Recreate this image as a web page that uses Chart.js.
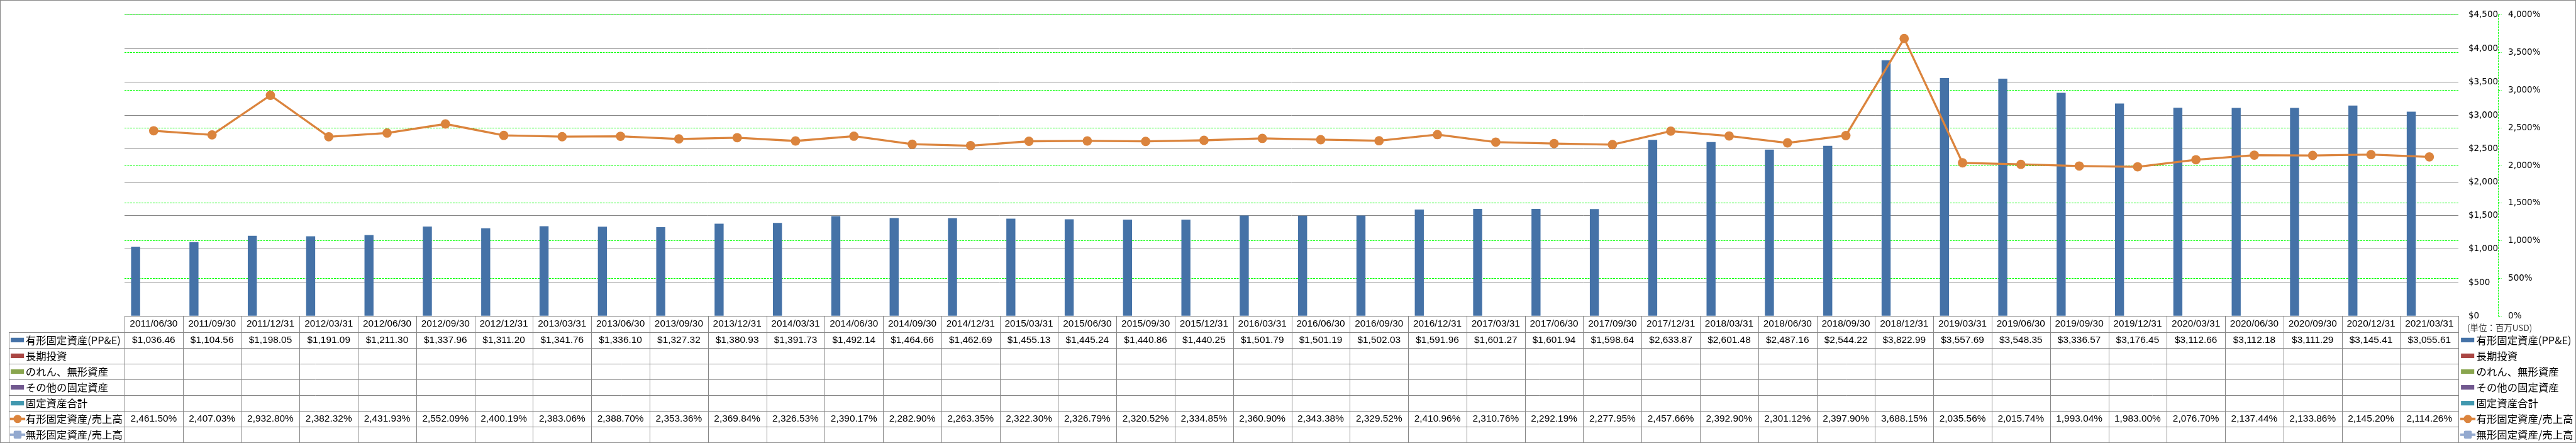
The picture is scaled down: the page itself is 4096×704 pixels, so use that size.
<!DOCTYPE html>
<html lang="ja">
<head>
<meta charset="utf-8">
<title>有形固定資産 推移</title>
<script src="https://cdn.jsdelivr.net/npm/chart.js@4.4.1/dist/chart.umd.min.js"></script>
<style>
  html,body{margin:0;padding:0;background:#fff}
  canvas{display:block}
</style>
</head>
<body>
<canvas id="chart" width="4096" height="704"></canvas>
<script>
// 期末日
const dates = ["2011/06/30","2011/09/30","2011/12/31","2012/03/31","2012/06/30","2012/09/30","2012/12/31",
  "2013/03/31","2013/06/30","2013/09/30","2013/12/31","2014/03/31","2014/06/30","2014/09/30","2014/12/31",
  "2015/03/31","2015/06/30","2015/09/30","2015/12/31","2016/03/31","2016/06/30","2016/09/30","2016/12/31",
  "2017/03/31","2017/06/30","2017/09/30","2017/12/31","2018/03/31","2018/06/30","2018/09/30","2018/12/31",
  "2019/03/31","2019/06/30","2019/09/30","2019/12/31","2020/03/31","2020/06/30","2020/09/30","2020/12/31",
  "2021/03/31"];

// 有形固定資産(PP&E)  百万USD
const ppe = [1036.46,1104.56,1198.05,1191.09,1211.30,1337.96,1311.20,1341.76,1336.10,1327.32,
  1380.93,1391.73,1492.14,1464.66,1462.69,1455.13,1445.24,1440.86,1440.25,1501.79,
  1501.19,1502.03,1591.96,1601.27,1601.94,1598.64,2633.87,2601.48,2487.16,2544.22,
  3822.99,3557.69,3548.35,3336.57,3176.45,3112.66,3112.18,3111.29,3145.41,3055.61];
// データなしの系列
const longInvest = [], goodwill = [], otherFixed = [], totalFixed = [];
// 有形固定資産/売上高  %
const ppeRatio = [2461.50,2407.03,2932.80,2382.32,2431.93,2552.09,2400.19,2383.06,2388.70,2353.36,
  2369.84,2326.53,2390.17,2282.90,2263.35,2322.30,2326.79,2320.52,2334.85,2360.90,
  2343.38,2329.52,2410.96,2310.76,2292.19,2277.95,2457.66,2392.90,2301.12,2397.90,
  3688.15,2035.56,2015.74,1993.04,1983.00,2076.70,2137.44,2133.86,2145.20,2114.26];
const intangibleRatio = [];

// 軸の範囲 [min, max, step]
const usdAxis = [0, 4500, 500];
const pctAxis = [0, 4000, 500];

const seriesNames = ["有形固定資産(PP&E)","長期投資","のれん、無形資産","その他の固定資産","固定資産合計","有形固定資産/売上高","無形固定資産/売上高"];
const seriesColors = ["#4572A7","#AA4643","#89A54E","#71588F","#4198AF","#DB843D","#93A9CF"];

// 参照画像 6227x1071 -> 4096x704
const SX = 4096/6227, SY = 704/1071, F = 0.657;
const JP = '"Noto Sans CJK JP", sans-serif';
const NUM = '"Liberation Sans", Arial, sans-serif';
const AX = '"DejaVu Sans", sans-serif';

const fmt = v => v.toLocaleString("en-US",{minimumFractionDigits:2,maximumFractionDigits:2});

function hline(c,x1,x2,y){ y=Math.round(y)+0.5; c.moveTo(x1,y); c.lineTo(x2,y); }
function vline(c,x,y1,y2){ x=Math.round(x)+0.5; c.moveTo(x,y1); c.lineTo(x,y2); }

// 凡例マーカー
function drawKey(c, ds, x, y) {
  if (ds.type === "line") {
    const w = 37*SX, cx = x + w/2;
    c.strokeStyle = ds.borderColor; c.lineWidth = 6*F;
    c.beginPath(); c.moveTo(x,y); c.lineTo(x+w,y); c.stroke();
    c.fillStyle = ds.backgroundColor;
    c.beginPath();
    if (ds.pointStyle === "rect") c.roundRect(cx-9.5*F, y-9.5*F, 19*F, 19*F, 3*F);
    else c.arc(cx, y, 10*F, 0, Math.PI*2);
    c.fill();
  } else {
    c.fillStyle = ds.backgroundColor;
    c.fillRect(x+2*SX, y-5.5*SY, 32*SX, 11*SY);
  }
}

const tablePlugin = {
  id: "dataTable",
  beforeDraw(chart) {
    const c = chart.ctx;
    c.save(); c.fillStyle = "#fff"; c.fillRect(0,0,chart.width,chart.height); c.restore();
  },
  afterDraw(chart) {
    const c = chart.ctx, xs = chart.scales.x, y1 = chart.scales.y1, area = chart.chartArea;
    const sets = chart.data.datasets, n = dates.length;
    const colW = (xs.right - xs.left) / n;
    const headTop = area.bottom, headBot = 803*SY, bottom = 1070*SY;
    const rowH = (bottom - headBot) / sets.length, legL = 22*SX;
    c.save();

    // 第2軸の破線
    c.strokeStyle = "#00ff00"; c.lineWidth = 1; c.setLineDash([3,1.5]);
    c.beginPath(); vline(c, y1.left, y1.top, y1.bottom); c.stroke();
    c.setLineDash([]);

    // 表の罫線
    c.strokeStyle = "#868686"; c.lineWidth = 1;
    c.beginPath();
    hline(c, area.left, area.right, headTop);
    for (let r = 0; r <= sets.length; r++) hline(c, legL, area.right, headBot + r*rowH);
    for (let i = 0; i < n; i++) vline(c, xs.getPixelForValue(i) - colW/2, headTop, bottom);
    vline(c, xs.getPixelForValue(n-1) + colW/2, headTop, bottom);
    vline(c, legL, headBot, bottom);
    c.stroke();
    c.strokeRect(0.5, 0.5, chart.width-1, chart.height-1);

    // 日付と数値
    c.fillStyle = "#000"; c.textAlign = "center"; c.textBaseline = "middle";
    c.font = `${23.5*F}px ${NUM}`;
    dates.forEach((d,i) => {
      const x = xs.getPixelForValue(i);
      c.fillText(d, x, (headTop+headBot)/2);
      sets.forEach((ds,r) => {
        const v = ds.data[i];
        if (v == null) return;
        const txt = ds.type === "line" ? fmt(v) + "%" : "$" + fmt(v);
        c.fillText(txt, x, headBot + rowH*(r+0.5));
      });
    });

    // 凡例(表の左と右)
    c.textAlign = "left";
    c.font = `${25*F}px ${JP}`;
    sets.forEach((ds,r) => {
      const y = headBot + rowH*(r+0.5);
      drawKey(c, ds, 24*SX, y);
      drawKey(c, ds, 5947*SX, y);
      c.fillStyle = "#000";
      c.fillText(ds.label, 62*SX, y);
      c.fillText(ds.label, 5986*SX, y);
    });

    c.fillStyle = "#333";
    c.font = `${20.5*F}px ${JP}`;
    c.fillText("(単位：百万USD)", 5964*SX, 792*SY);
    c.restore();
  }
};

const barSeries = [ppe, longInvest, goodwill, otherFixed, totalFixed];
const lineSeries = [ppeRatio, intangibleRatio];

const datasets = [
  ...barSeries.map((d,i) => ({
    type: "bar", label: seriesNames[i], data: d, yAxisID: "y", order: 1,
    backgroundColor: seriesColors[i], borderWidth: 0,
    categoryPercentage: 0.775, barPercentage: 1
  })),
  ...lineSeries.map((d,i) => ({
    type: "line", label: seriesNames[5+i], data: d, yAxisID: "y1", order: 0,
    borderColor: seriesColors[5+i], backgroundColor: seriesColors[5+i],
    borderWidth: 5*F, pointRadius: 11.3*F, pointBorderWidth: 0,
    pointStyle: i === 0 ? "circle" : "rect", tension: 0
  }))
];

new Chart(document.getElementById("chart").getContext("2d"), {
  type: "bar",
  data: { labels: dates, datasets },
  options: {
    responsive: false, animation: false, devicePixelRatio: 1, events: [],
    layout: { padding: { left: 301*SX, right: 0, top: 15*SY, bottom: (1071-764)*SY } },
    plugins: { legend: { display: false }, tooltip: { enabled: false } },
    scales: {
      x: { display: false },
      y: {
        position: "right", weight: 1, min: usdAxis[0], max: usdAxis[1],
        ticks: { stepSize: usdAxis[2], padding: 24*SX, color: "#000", font: { family: AX, size: 20.5*F },
                 callback: v => "$" + v.toLocaleString("en-US") },
        grid: { color: "#868686", lineWidth: 1, drawTicks: false },
        border: { display: false },
        afterFit: s => { s.width = 96*SX; }
      },
      y1: {
        position: "right", weight: 2, min: pctAxis[0], max: pctAxis[1],
        ticks: { stepSize: pctAxis[2], padding: 16*SX, color: "#000", font: { family: AX, size: 20.5*F },
                 callback: v => v.toLocaleString("en-US") + "%" },
        grid: { color: "#00ff00", lineWidth: 1, tickLength: 8*SX, tickColor: "#00ff00", tickBorderDash: [3,1.5] },
        border: { display: false, dash: [3,1.5] },
        afterFit: s => { s.width = 188*SX; }
      }
    }
  },
  plugins: [tablePlugin]
});
</script>
</body>
</html>
